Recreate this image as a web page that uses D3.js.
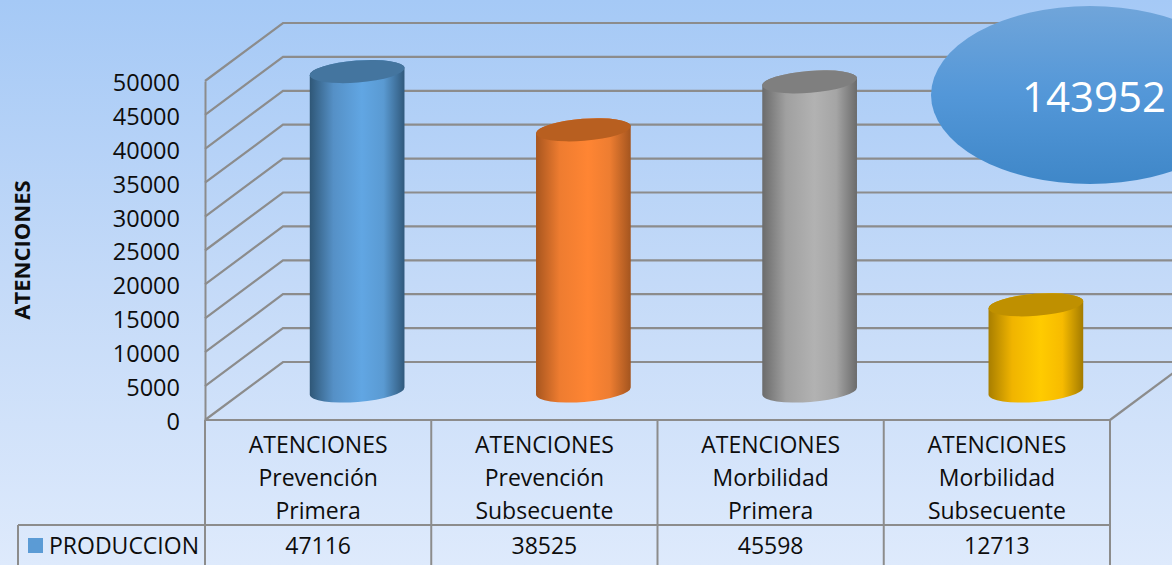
<!DOCTYPE html>
<html>
<head>
<meta charset="utf-8">
<script src="https://cdn.jsdelivr.net/npm/d3@7"></script>
<style>
html, body { margin:0; padding:0; overflow:hidden; }
svg { display:block; }
text { font-family:"Open Sans", sans-serif; fill:#0d0d0d; }
</style>
</head>
<body>
<svg id="chart"></svg>
<script>
var categories = ["Prevención Primera", "Prevención Subsecuente", "Morbilidad Primera", "Morbilidad Subsecuente"];
var groupLabel = "ATENCIONES";
var values = [47116, 38525, 45598, 12713];
var yTicks = [0, 5000, 10000, 15000, 20000, 25000, 30000, 35000, 40000, 45000, 50000];
var seriesName = "PRODUCCION";
var axisTitle = "ATENCIONES";
var total = 143952;
var bodyColors = [
    ["#2f5777", "#5590c6", "#61a6e3", "#5a9ad2", "#30597c"],
    ["#a8561f", "#ee7c30", "#ff8533", "#ed7d31", "#a4551f"],
    ["#6b6b6b", "#a0a0a0", "#b2b2b2", "#a5a5a5", "#6b6b6b"],
    ["#a87e00", "#f0b400", "#ffcb00", "#f7bb00", "#a37b00"]
];
var topColors = ["#44759f", "#b85f20", "#7f7f7f", "#bf9000"];

var screen = {width:1172, height:565};
var plot = {left:205, right:1110, top:81, bottom:420};
var depth = {x:78, y:58};
var tableMid = 525;
var tableLeft = 18;
var gridColor = "#8c8c8c";

var svg = d3.select("#chart")
    .attr("width", screen.width)
    .attr("height", screen.height);

var defs = svg.append("defs");

var bg = defs.append("linearGradient")
    .attr("id", "bg")
    .attr("x1", 0).attr("y1", 0).attr("x2", 0).attr("y2", 1);
bg.append("stop").attr("offset", "0%").attr("stop-color", "#a5c9f6");
bg.append("stop").attr("offset", "50%").attr("stop-color", "#c4daf8");
bg.append("stop").attr("offset", "100%").attr("stop-color", "#deeafc");

var bubble = defs.append("linearGradient")
    .attr("id", "bubble")
    .attr("x1", 0).attr("y1", 0).attr("x2", 0).attr("y2", 1);
bubble.append("stop").attr("offset", "0%").attr("stop-color", "#70a5da");
bubble.append("stop").attr("offset", "50%").attr("stop-color", "#5397d8");
bubble.append("stop").attr("offset", "100%").attr("stop-color", "#3f87c8");

bodyColors.forEach(function(colors, i)
{
    var grad = defs.append("linearGradient")
        .attr("id", "body" + i)
        .attr("x1", 0).attr("y1", 0).attr("x2", 1).attr("y2", 0);
    [0, 0.25, 0.55, 0.78, 1].forEach(function(off, j)
    {
        grad.append("stop").attr("offset", off).attr("stop-color", colors[j]);
    });
});

svg.append("rect")
    .attr("width", screen.width)
    .attr("height", screen.height)
    .attr("fill", "url(#bg)");

var xScale = d3.scaleBand()
    .domain(categories)
    .range([plot.left, plot.right]);

var yScale = d3.scaleLinear()
    .domain([0, 50000])
    .range([plot.bottom, plot.top]);

// walls: each tick goes back along the side wall, then across the back wall
var grid = svg.append("g")
    .attr("fill", "none")
    .attr("stroke", gridColor);

grid.selectAll("path")
    .data(yTicks)
    .enter()
    .append("path")
    .attr("stroke-width", 2.2)
    .attr("d", function(t)
    {
        var y = yScale(t);
        return "M" + plot.left + "," + y +
            "L" + (plot.left + depth.x) + "," + (y - depth.y) +
            "L" + (plot.right + depth.x) + "," + (y - depth.y);
    });

grid.append("line")
    .attr("x1", plot.right).attr("y1", plot.bottom)
    .attr("x2", plot.right + depth.x).attr("y2", plot.bottom - depth.y)
    .attr("stroke-width", 2.2);

var yAxis = d3.axisLeft(yScale)
    .tickValues(yTicks)
    .tickFormat(d3.format("d"))
    .tickSize(0)
    .tickPadding(25);

var yAxisG = svg.append("g")
    .attr("transform", "translate(" + plot.left + ",0)")
    .call(yAxis);
yAxisG.select(".domain")
    .attr("stroke", gridColor)
    .attr("stroke-width", 2);
yAxisG.selectAll("text")
    .attr("font-size", 23.5)
    .attr("dy", "0.4em")
    .style("font-family", "'Open Sans', sans-serif");

// cylinders
var rx = 47.5, ry = 11, tilt = -4.5;
var tiltRad = tilt * Math.PI / 180;
var dx = rx * Math.cos(tiltRad), dy = rx * Math.sin(tiltRad);

var barX = function(d, i) { return xScale(categories[i]) + xScale.bandwidth() / 2 + depth.x / 2; };
var barY = function(v) { return yScale(v) - depth.y / 2; };

var bars = svg.append("g")
    .selectAll("g")
    .data(values)
    .enter()
    .append("g");

bars.append("path")
    .attr("fill", function(d, i) { return "url(#body" + i + ")"; })
    .attr("d", function(d, i)
    {
        var cx = barX(d, i), top = barY(d), base = barY(0);
        var arc = "A" + rx + "," + ry + " " + tilt + " 0 0 ";
        return "M" + (cx - dx) + "," + (top - dy) +
            "L" + (cx - dx) + "," + (base - dy) +
            arc + (cx + dx) + "," + (base + dy) +
            "L" + (cx + dx) + "," + (top + dy) +
            arc + (cx - dx) + "," + (top - dy) + "Z";
    });

bars.append("ellipse")
    .attr("rx", rx)
    .attr("ry", ry)
    .attr("fill", function(d, i) { return topColors[i]; })
    .attr("transform", function(d, i)
    {
        return "translate(" + barX(d, i) + "," + barY(d) + ") rotate(" + tilt + ")";
    });

// data table under the plot
var table = svg.append("g")
    .attr("stroke", gridColor)
    .attr("stroke-width", 2);

var cellEdges = categories.map(function(c) { return xScale(c); }).concat([plot.right]);

table.selectAll(".edge")
    .data(cellEdges)
    .enter()
    .append("line")
    .attr("class", "edge")
    .attr("x1", function(d) { return d; })
    .attr("x2", function(d) { return d; })
    .attr("y1", plot.bottom)
    .attr("y2", screen.height);

table.append("line")
    .attr("x1", plot.left).attr("x2", plot.right)
    .attr("y1", plot.bottom).attr("y2", plot.bottom);
table.append("line")
    .attr("x1", tableLeft).attr("x2", plot.right)
    .attr("y1", tableMid).attr("y2", tableMid);
table.append("line")
    .attr("x1", tableLeft).attr("x2", tableLeft)
    .attr("y1", tableMid).attr("y2", screen.height);

var catLabels = svg.append("g")
    .selectAll("text")
    .data(categories)
    .enter()
    .append("text")
    .attr("text-anchor", "middle")
    .attr("font-size", 23);

catLabels.each(function(c)
{
    var cx = xScale(c) + xScale.bandwidth() / 2;
    var lines = [groupLabel].concat(c.split(" "));
    d3.select(this).selectAll("tspan")
        .data(lines)
        .enter()
        .append("tspan")
        .attr("x", cx)
        .attr("y", function(l, i) { return 453 + i * 33; })
        .text(function(l) { return l; });
});

svg.append("g")
    .selectAll("text")
    .data(values)
    .enter()
    .append("text")
    .attr("text-anchor", "middle")
    .attr("font-size", 23)
    .attr("x", function(d, i) { return xScale(categories[i]) + xScale.bandwidth() / 2; })
    .attr("y", 554)
    .text(function(d) { return d; });

svg.append("rect")
    .attr("x", 28).attr("y", 538)
    .attr("width", 15).attr("height", 15)
    .attr("fill", "#5b9bd5");

svg.append("text")
    .attr("x", 49).attr("y", 554)
    .attr("font-size", 23)
    .text(seriesName);

svg.append("text")
    .attr("transform", "translate(30,250) rotate(-90)")
    .attr("text-anchor", "middle")
    .attr("font-size", 22)
    .attr("font-weight", "bold")
    .text(axisTitle);

// total bubble, runs off the right edge
svg.append("ellipse")
    .attr("cx", 1090).attr("cy", 95)
    .attr("rx", 159).attr("ry", 89)
    .attr("fill", "url(#bubble)");

svg.append("text")
    .attr("x", 1094).attr("y", 112)
    .attr("text-anchor", "middle")
    .attr("font-size", 42)
    .style("fill", "#ffffff")
    .text(total);
</script>
</body>
</html>
